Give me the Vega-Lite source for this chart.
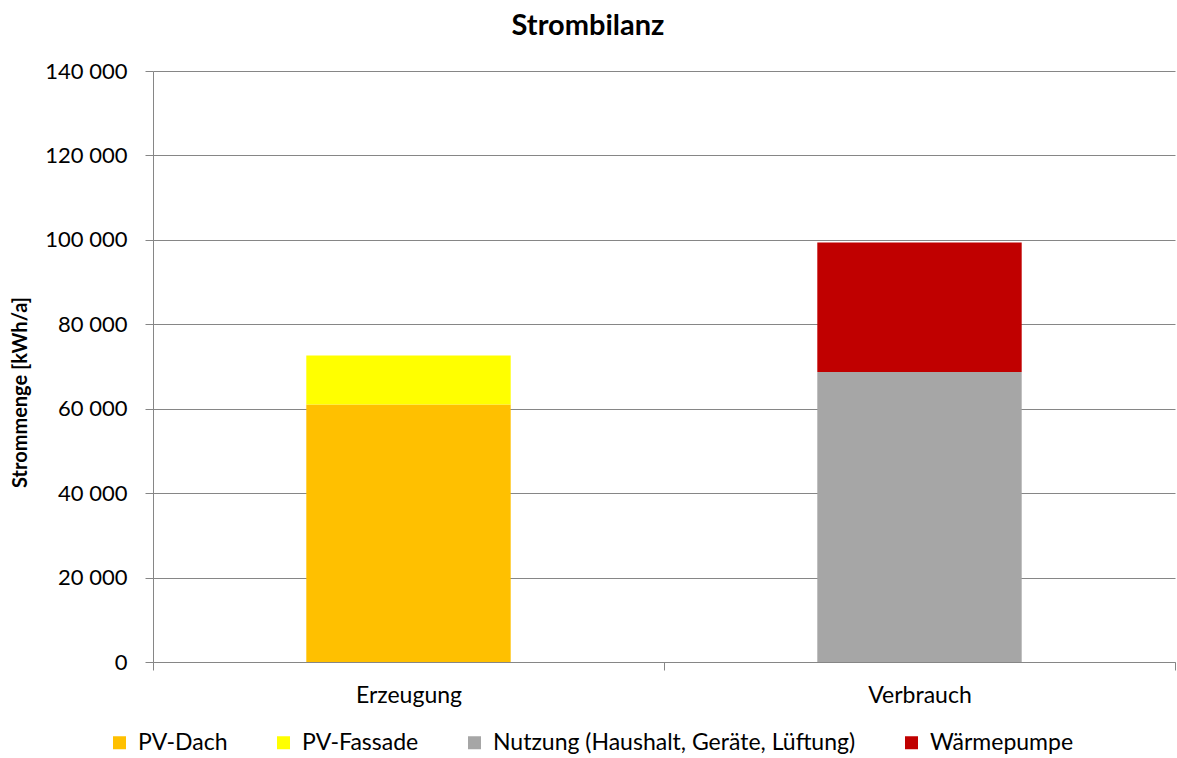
{
  "$schema": "https://vega.github.io/schema/vega-lite/v6.json",
  "autosize": "none",
  "width": 1022,
  "height": 591,
  "padding": {"left": 153, "top": 71, "right": 2, "bottom": 96},
  "background": "white",
  "config": {
    "font": "Lato",
    "view": {"stroke": null},
    "locale": {"number": {"decimal": ",", "thousands": " ", "grouping": [3], "currency": ["", " €"]}}
  },
  "title": {
    "text": "Strombilanz",
    "fontSize": 29,
    "fontWeight": "bold",
    "color": "black",
    "anchor": "middle",
    "dx": -76,
    "offset": 19
  },
  "data": {
    "values": [
      {"kategorie": "Erzeugung", "quelle": "PV-Dach", "wert": 61000, "reihe": 1},
      {"kategorie": "Erzeugung", "quelle": "PV-Fassade", "wert": 11600, "reihe": 2},
      {"kategorie": "Verbrauch", "quelle": "Nutzung (Haushalt, Geräte, Lüftung)", "wert": 68700, "reihe": 3},
      {"kategorie": "Verbrauch", "quelle": "Wärmepumpe", "wert": 30700, "reihe": 4}
    ]
  },
  "mark": {"type": "bar", "width": {"band": 0.4}},
  "encoding": {
    "x": {
      "field": "kategorie",
      "type": "nominal",
      "scale": {"paddingInner": 0, "paddingOuter": 0},
      "axis": {
        "title": null,
        "labelAngle": 0,
        "labelFontSize": 23,
        "labelColor": "black",
        "labelPadding": 14,
        "tickBand": "extent",
        "tickSize": 8,
        "tickColor": "#868686",
        "domainColor": "#868686",
        "grid": false
      }
    },
    "y": {
      "field": "wert",
      "type": "quantitative",
      "stack": "zero",
      "scale": {"domain": [0, 140000], "nice": false},
      "axis": {
        "title": "Strommenge [kWh/a]",
        "titleFontSize": 20,
        "titleFontWeight": "bold",
        "titleColor": "black",
        "titleAngle": -90,
        "titleX": -133,
        "titleY": 321,
        "titleAlign": "center",
        "titleBaseline": "middle",
        "values": [0, 20000, 40000, 60000, 80000, 100000, 120000, 140000],
        "format": ",d",
        "labelFontSize": 22,
        "labelColor": "black",
        "labelPadding": 18,
        "tickSize": 8,
        "tickColor": "#868686",
        "domainColor": "#868686",
        "gridColor": "#868686",
        "gridWidth": 1
      }
    },
    "color": {
      "field": "quelle",
      "type": "nominal",
      "scale": {
        "domain": ["PV-Dach", "PV-Fassade", "Nutzung (Haushalt, Geräte, Lüftung)", "Wärmepumpe"],
        "range": ["#FFC000", "#FFFF00", "#A6A6A6", "#C00000"]
      },
      "legend": {
        "title": null,
        "orient": "none",
        "direction": "horizontal",
        "legendX": -45,
        "legendY": 660,
        "symbolType": "square",
        "symbolSize": 169,
        "symbolStrokeWidth": 0,
        "labelFontSize": 23,
        "labelColor": "black",
        "labelOffset": 7,
        "columnPadding": 44,
        "labelLimit": 600
      }
    },
    "order": {"field": "reihe", "type": "quantitative"}
  }
}
